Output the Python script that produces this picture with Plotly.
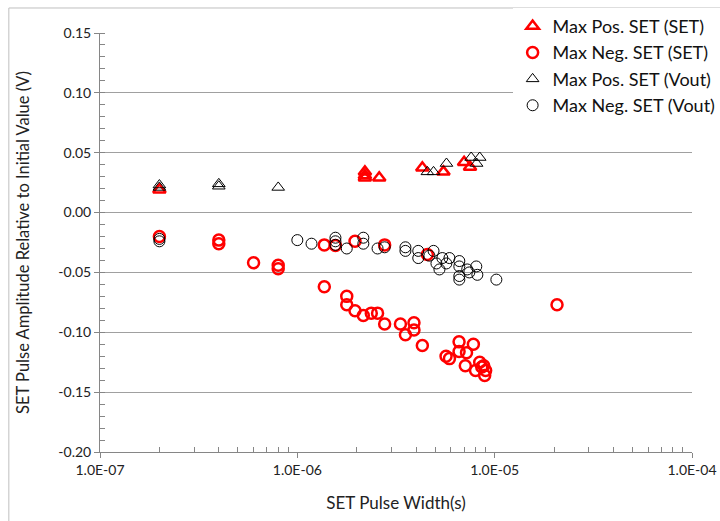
import plotly.graph_objects as go

# ---- data ----
pos_set_x = [2e-7, 2.2e-6, 2.2e-6, 2.2e-6, 2.6e-6, 4.3e-6, 5.5e-6, 7.0e-6, 7.5e-6]
pos_set_y = [0.019, 0.034, 0.031, 0.029, 0.029, 0.0375, 0.034, 0.042, 0.038]

neg_set_x = [2e-7, 4e-7, 4e-7, 6e-7, 8e-7, 8e-7, 1.37e-6, 1.37e-6, 1.56e-6,
             1.78e-6, 1.78e-6, 1.96e-6, 1.96e-6, 2.16e-6, 2.37e-6, 2.55e-6,
             2.77e-6, 2.77e-6, 3.33e-6, 3.53e-6, 3.9e-6, 3.9e-6, 4.3e-6,
             4.56e-6, 5.67e-6, 5.9e-6, 6.6e-6, 6.6e-6, 7.1e-6, 7.2e-6, 7.8e-6,
             8.0e-6, 8.4e-6, 8.8e-6, 9.0e-6, 8.9e-6, 8.6e-6, 2.07e-5]
neg_set_y = [-0.020, -0.023, -0.026, -0.042, -0.044, -0.047, -0.027, -0.062,
             -0.0275, -0.070, -0.077, -0.024, -0.082, -0.086, -0.084, -0.084,
             -0.027, -0.093, -0.093, -0.102, -0.092, -0.098, -0.111, -0.035,
             -0.120, -0.122, -0.108, -0.116, -0.128, -0.117, -0.110, -0.132,
             -0.125, -0.128, -0.132, -0.136, -0.129, -0.077]

pos_vout_x = [2e-7, 2e-7, 4e-7, 4e-7, 8e-7, 4.56e-6, 4.9e-6, 5.7e-6, 7.6e-6, 8.4e-6, 8.1e-6]
pos_vout_y = [0.023, 0.021, 0.024, 0.022, 0.021, 0.034, 0.034, 0.041, 0.046, 0.046, 0.041]

neg_vout_x = [2e-7, 2e-7, 1.0e-6, 1.18e-6, 1.56e-6, 1.56e-6, 1.56e-6, 1.78e-6,
              2.16e-6, 2.16e-6, 2.55e-6, 2.77e-6, 3.53e-6, 3.53e-6, 4.1e-6,
              4.1e-6, 4.67e-6, 4.9e-6, 5.07e-6, 5.25e-6, 5.43e-6, 5.69e-6,
              5.9e-6, 6.62e-6, 6.62e-6, 6.62e-6, 6.62e-6, 7.26e-6, 7.44e-6,
              8.07e-6, 8.17e-6, 1.02e-5]
neg_vout_y = [-0.022, -0.024, -0.023, -0.026, -0.021, -0.024, -0.027, -0.030,
              -0.021, -0.026, -0.030, -0.029, -0.029, -0.032, -0.032, -0.038,
              -0.036, -0.032, -0.0425, -0.0475, -0.038, -0.0425, -0.038,
              -0.0405, -0.045, -0.053, -0.056, -0.0475, -0.050, -0.045, -0.052,
              -0.056]

x_tickvals = [1e-7, 1e-6, 1e-5, 1e-4]
x_ticktext = ["1.0E-07", "1.0E-06", "1.0E-05", "1.0E-04"]
x_minor = [m * d for d in [1e-7, 1e-6, 1e-5] for m in range(2, 10)]

y_tickvals = [0.15, 0.10, 0.05, 0.0, -0.05, -0.10, -0.15, -0.20]
y_ticktext = ["0.15", "0.10", "0.05", "0.00", "-0.05", "-0.10", "-0.15", "-0.20"]

names = ["Max Pos. SET (SET)", "Max Neg. SET (SET)",
         "Max Pos. SET (Vout)", "Max Neg. SET (Vout)"]

FONT = "Lato"
TXT = "#222222"

fig = go.Figure()
fig.add_trace(go.Scatter(x=pos_set_x, y=pos_set_y, mode="markers", name=names[0],
                         marker=dict(symbol="triangle-up-open", size=11, color="#ff0000",
                                     line=dict(width=2.5, color="#ff0000"))))
fig.add_trace(go.Scatter(x=neg_set_x, y=neg_set_y, mode="markers", name=names[1],
                         marker=dict(symbol="circle-open", size=11, color="#ff0000",
                                     line=dict(width=2.5, color="#ff0000"))))
fig.add_trace(go.Scatter(x=pos_vout_x, y=pos_vout_y, mode="markers", name=names[2],
                         marker=dict(symbol="triangle-up-open", size=11, color="#000000",
                                     line=dict(width=1, color="#000000"))))
fig.add_trace(go.Scatter(x=neg_vout_x, y=neg_vout_y, mode="markers", name=names[3],
                         marker=dict(symbol="circle-open", size=11, color="#000000",
                                     line=dict(width=1, color="#000000"))))

fig.update_layout(
    width=720, height=521,
    margin=dict(l=100, r=28, t=33, b=69, autoexpand=False),
    paper_bgcolor="white", plot_bgcolor="white",
    font=dict(family=FONT, size=14, color=TXT),
    showlegend=True,
    legend=dict(x=0.697, y=1.06, xanchor="left", yanchor="top",
                bgcolor="white", font=dict(family=FONT, size=18, color="#111111"),
                itemwidth=30, tracegroupgap=0),
    shapes=[
        dict(type="line", xref="paper", yref="paper", x0=-0.154, x1=1.2, y0=1.0597, y1=1.0597,
             line=dict(color="#bfbfbf", width=1)),
        dict(type="line", xref="paper", yref="paper", x0=-0.154, x1=-0.154, y0=-0.2, y1=1.0597,
             line=dict(color="#bfbfbf", width=1)),
    ],
)

fig.update_xaxes(
    type="log", range=[-7, -4], automargin=False,
    tickvals=x_tickvals, ticktext=x_ticktext,
    showgrid=False, zeroline=False,
    showline=True, linecolor="#868686", linewidth=1,
    ticks="outside", ticklen=5, tickcolor="#868686",
    minor=dict(tickvals=x_minor, ticks="inside", ticklen=5, tickcolor="#868686", showgrid=False),
    tickfont=dict(family=FONT, size=14, color=TXT),
    title=dict(text="SET Pulse Width(s)", font=dict(family=FONT, size=17, color=TXT), standoff=20),
)
fig.update_yaxes(
    range=[-0.2, 0.15], automargin=False,
    tickvals=y_tickvals, ticktext=y_ticktext,
    showgrid=True, gridcolor="#a0a0a0", gridwidth=1, zeroline=False,
    showline=True, linecolor="#868686", linewidth=1,
    ticks="outside", ticklen=5, tickcolor="#868686",
    minor=dict(dtick=0.01, tick0=0, ticks="inside", ticklen=5, tickcolor="#868686", showgrid=False),
    tickfont=dict(family=FONT, size=14, color=TXT),
    title=dict(text="SET Pulse Amplitude Relative to Initial Value (V)",
               font=dict(family=FONT, size=16.5, color=TXT), standoff=24),
)

fig.write_html("out.html")
